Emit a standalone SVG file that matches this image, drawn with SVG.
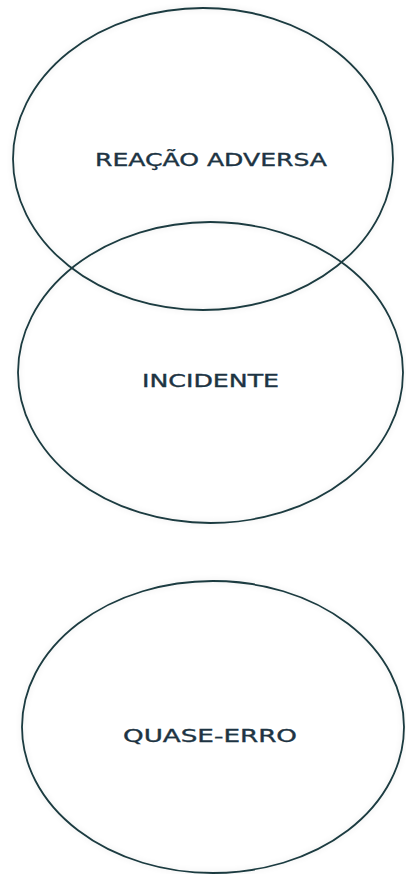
<svg xmlns="http://www.w3.org/2000/svg" width="406" height="874" viewBox="0 0 406 874">
  <style>
    .shape { fill: none; stroke: #1b3b40; stroke-width: 1.8; }
    .label { font-family: "DejaVu Sans", "Liberation Sans", sans-serif; font-size: 17px; fill: #1d3443; stroke: #1d3443; stroke-width: 0.35; text-anchor: middle; }
  </style>
  <defs>
    <filter id="glow" x="-10%" y="-10%" width="120%" height="120%">
      <feGaussianBlur in="SourceAlpha" stdDeviation="3" result="b"/>
      <feComponentTransfer in="b" result="s"><feFuncA type="linear" slope="0.12"/></feComponentTransfer>
      <feMerge><feMergeNode in="s"/><feMergeNode in="SourceGraphic"/></feMerge>
    </filter>
  </defs>
  <rect width="406" height="874" fill="#ffffff"/>
  <g id="reacao-adversa">
    <ellipse class="shape" filter="url(#glow)" cx="203" cy="159" rx="190" ry="151"/>
    <text class="label" x="211" y="166" textLength="232" lengthAdjust="spacingAndGlyphs">REAÇÃO ADVERSA</text>
  </g>
  <g id="incidente">
    <ellipse class="shape" filter="url(#glow)" cx="210.5" cy="372.5" rx="192.5" ry="150.5"/>
    <text class="label" x="210.5" y="387" textLength="137" lengthAdjust="spacingAndGlyphs">INCIDENTE</text>
  </g>
  <g id="quase-erro">
    <ellipse class="shape" filter="url(#glow)" cx="213" cy="727" rx="191" ry="146"/>
    <text class="label" x="210" y="742" textLength="174" lengthAdjust="spacingAndGlyphs">QUASE-ERRO</text>
  </g>
  <g id="connectors"/>
</svg>
